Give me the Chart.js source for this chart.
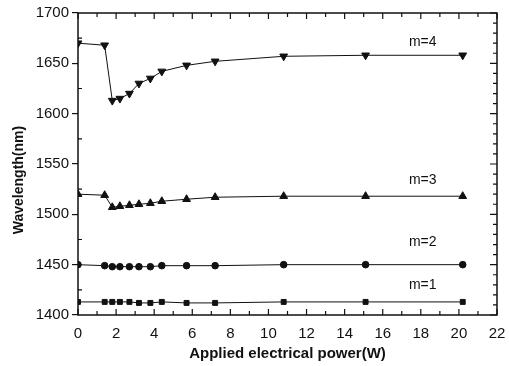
<!DOCTYPE html>
<html>
<head>
<meta charset="utf-8">
<script src="https://cdn.jsdelivr.net/npm/chart.js@4.4.1/dist/chart.umd.min.js"></script>
<style>
  html, body { margin: 0; padding: 0; background: #fff; }
  #wrap { width: 509px; height: 366px; }
</style>
</head>
<body>
<div id="wrap"><canvas id="chart"></canvas></div>
<script>
// applied electrical power (W)
const power = [0, 1.4, 1.8, 2.2, 2.7, 3.2, 3.8, 4.4, 5.7, 7.2, 10.8, 15.1, 20.2];

// wavelength (nm) for each mode
const m1 = [1413, 1413, 1413, 1413, 1413, 1412, 1412, 1413, 1412, 1412, 1413, 1413, 1413];
const m2 = [1450, 1449, 1448, 1448, 1448, 1448, 1448, 1449, 1449, 1449, 1450, 1450, 1450];
const m3 = [1520, 1519, 1507, 1508, 1509, 1510, 1511, 1513, 1515, 1517, 1518, 1518, 1518];
const m4 = [1670, 1668, 1613, 1615, 1620, 1630, 1635, 1642, 1648, 1652, 1657, 1658, 1658];

const modeNames = ['m=1', 'm=2', 'm=3', 'm=4'];
const labelPos = [[18.1, 1430], [18.1, 1472], [18.1, 1534], [18.1, 1671]];

const xTicks = [0, 2, 4, 6, 8, 10, 12, 14, 16, 18, 20, 22];
const yTicks = [1400, 1450, 1500, 1550, 1600, 1650, 1700];

const FONT = '"Liberation Sans", Arial, sans-serif';

function toPoints(ys) {
    return power.map((p, i) => ({ x: p, y: ys[i] }));
}

function series(label, ys, style, rot, r) {
    return {
        label: label,
        data: toPoints(ys),
        showLine: true,
        borderColor: '#111',
        backgroundColor: '#111',
        borderWidth: 1,
        pointStyle: style,
        rotation: rot,
        pointRadius: r,
        pointBorderWidth: 1
    };
}

// frame, inward ticks, mode labels, y title
const framePlugin = {
    id: 'frame',
    afterDraw(chart) {
        const ctx = chart.ctx;
        const a = chart.chartArea;
        const xs = chart.scales.x;
        const ys = chart.scales.y;
        ctx.save();
        ctx.strokeStyle = '#111';
        ctx.lineWidth = 1.5;
        ctx.strokeRect(a.left, a.top, a.right - a.left, a.bottom - a.top);

        ctx.lineWidth = 1.2;
        ctx.beginPath();
        // bottom and top ticks
        for (let v = 0; v <= 22; v++) {
            const px = xs.getPixelForValue(v);
            const len = v % 2 === 0 ? 6 : 4;
            ctx.moveTo(px, a.bottom); ctx.lineTo(px, a.bottom - len);
            ctx.moveTo(px, a.top); ctx.lineTo(px, a.top + len);
        }
        // left minor ticks inward
        for (let v = 1425; v < 1700; v += 50) {
            const py = ys.getPixelForValue(v);
            ctx.moveTo(a.left, py); ctx.lineTo(a.left + 4, py);
        }
        // right ticks inward
        for (let v = 1400; v <= 1700; v += 10) {
            const py = ys.getPixelForValue(v);
            const len = v % 50 === 0 ? 7 : 4;
            ctx.moveTo(a.right, py); ctx.lineTo(a.right - len, py);
        }
        ctx.stroke();

        ctx.fillStyle = '#111';
        ctx.font = '14px ' + FONT;
        ctx.textAlign = 'center';
        ctx.textBaseline = 'middle';
        modeNames.forEach((name, i) => {
            ctx.fillText(name, xs.getPixelForValue(labelPos[i][0]), ys.getPixelForValue(labelPos[i][1]));
        });

        // y axis title
        ctx.font = 'bold 14px ' + FONT;
        ctx.translate(19, 180);
        ctx.rotate(-Math.PI / 2);
        ctx.fillText('Wavelength(nm)', 0, 0);
        ctx.restore();
    }
};

const tickFont = { family: FONT, size: 15 };
const titleFont = { family: FONT, size: 15, weight: 'bold' };

new Chart(document.getElementById('chart').getContext('2d'), {
    type: 'scatter',
    data: {
        datasets: [
            series('m=4', m4, 'triangle', 180, 4.5),
            series('m=3', m3, 'triangle', 0, 4.5),
            series('m=2', m2, 'circle', 0, 3.3),
            series('m=1', m1, 'rect', 0, 3.5)
        ]
    },
    options: {
        responsive: true,
        maintainAspectRatio: false,
        animation: false,
        layout: { padding: { left: 4, right: 12, top: 13, bottom: 3 } },
        plugins: {
            legend: { display: false },
            tooltip: { enabled: false }
        },
        scales: {
            x: {
                type: 'linear',
                min: 0,
                max: 22,
                afterBuildTicks: s => { s.ticks = xTicks.map(v => ({ value: v })); },
                ticks: { color: '#111', font: tickFont, padding: 10, maxRotation: 0 },
                grid: { display: true, drawOnChartArea: false, drawTicks: false },
                border: { display: false },
                title: { display: true, text: 'Applied electrical power(W)', color: '#111', font: titleFont, padding: { top: 2, bottom: 0 } },
                afterFit: s => { s.height = 48; s.paddingLeft = 0; s.paddingRight = 0; }
            },
            y: {
                type: 'linear',
                min: 1400,
                max: 1700,
                afterBuildTicks: s => { s.ticks = yTicks.map(v => ({ value: v })); },
                ticks: { color: '#111', font: tickFont, padding: 3, callback: v => String(v) },
                grid: { drawOnChartArea: false, drawTicks: true, tickLength: 6, color: '#111', lineWidth: 1.2 },
                border: { display: false },
                title: { display: false },
                afterFit: s => { s.width = 74; }
            }
        }
    },
    plugins: [framePlugin]
});
</script>
</body>
</html>
